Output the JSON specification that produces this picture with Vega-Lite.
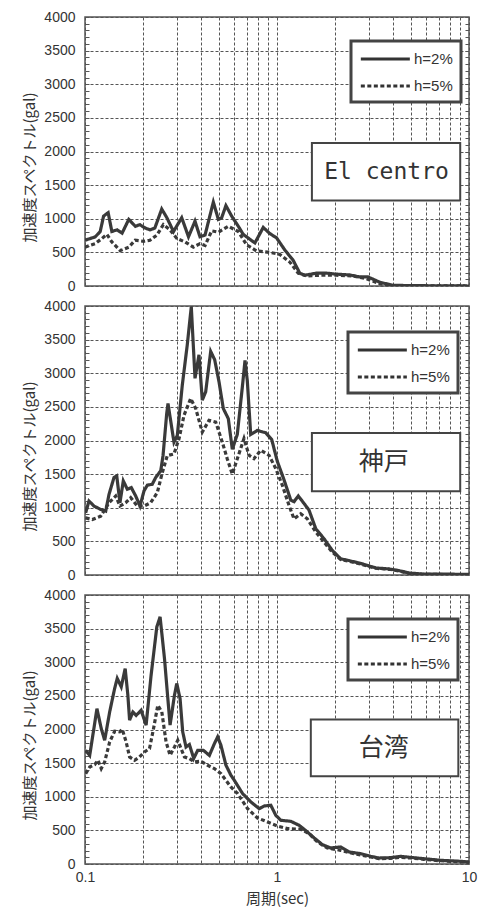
{
"$schema": "https://vega.github.io/schema/vega-lite/v6.json",
"background": "white",
"padding": {"top": 9, "left": 22, "right": 2, "bottom": 0},
"spacing": 20,
"bounds": "flush",
"datasets": {"spec": [
{"site":"El centro","h":"h=2%","T":0.100,"Sa":680},{"site":"El centro","h":"h=2%","T":0.113,"Sa":730},{"site":"El centro","h":"h=2%","T":0.120,"Sa":810},{"site":"El centro","h":"h=2%","T":0.125,"Sa":1040},{"site":"El centro","h":"h=2%","T":0.132,"Sa":1090},{"site":"El centro","h":"h=2%","T":0.138,"Sa":810},{"site":"El centro","h":"h=2%","T":0.147,"Sa":835},{"site":"El centro","h":"h=2%","T":0.156,"Sa":785},{"site":"El centro","h":"h=2%","T":0.169,"Sa":990},{"site":"El centro","h":"h=2%","T":0.183,"Sa":887},{"site":"El centro","h":"h=2%","T":0.193,"Sa":912},{"site":"El centro","h":"h=2%","T":0.206,"Sa":861},{"site":"El centro","h":"h=2%","T":0.218,"Sa":835},{"site":"El centro","h":"h=2%","T":0.231,"Sa":861},{"site":"El centro","h":"h=2%","T":0.251,"Sa":1144},{"site":"El centro","h":"h=2%","T":0.267,"Sa":1015},{"site":"El centro","h":"h=2%","T":0.289,"Sa":810},{"site":"El centro","h":"h=2%","T":0.319,"Sa":1015},{"site":"El centro","h":"h=2%","T":0.346,"Sa":732},{"site":"El centro","h":"h=2%","T":0.374,"Sa":964},{"site":"El centro","h":"h=2%","T":0.397,"Sa":732},{"site":"El centro","h":"h=2%","T":0.422,"Sa":758},{"site":"El centro","h":"h=2%","T":0.466,"Sa":1247},{"site":"El centro","h":"h=2%","T":0.495,"Sa":990},{"site":"El centro","h":"h=2%","T":0.515,"Sa":1015},{"site":"El centro","h":"h=2%","T":0.542,"Sa":1196},{"site":"El centro","h":"h=2%","T":0.580,"Sa":1041},{"site":"El centro","h":"h=2%","T":0.629,"Sa":887},{"site":"El centro","h":"h=2%","T":0.667,"Sa":768},{"site":"El centro","h":"h=2%","T":0.767,"Sa":640},{"site":"El centro","h":"h=2%","T":0.848,"Sa":871},{"site":"El centro","h":"h=2%","T":0.918,"Sa":779},{"site":"El centro","h":"h=2%","T":0.994,"Sa":717},{"site":"El centro","h":"h=2%","T":1.098,"Sa":536},{"site":"El centro","h":"h=2%","T":1.214,"Sa":382},{"site":"El centro","h":"h=2%","T":1.314,"Sa":191},{"site":"El centro","h":"h=2%","T":1.395,"Sa":160},{"site":"El centro","h":"h=2%","T":1.604,"Sa":191},{"site":"El centro","h":"h=2%","T":1.807,"Sa":191},{"site":"El centro","h":"h=2%","T":2.038,"Sa":176},{"site":"El centro","h":"h=2%","T":2.389,"Sa":165},{"site":"El centro","h":"h=2%","T":2.692,"Sa":135},{"site":"El centro","h":"h=2%","T":2.977,"Sa":135},{"site":"El centro","h":"h=2%","T":3.42,"Sa":57},{"site":"El centro","h":"h=2%","T":4.01,"Sa":10},{"site":"El centro","h":"h=2%","T":5.3,"Sa":5},{"site":"El centro","h":"h=2%","T":10,"Sa":0},
{"site":"El centro","h":"h=5%","T":0.100,"Sa":578},{"site":"El centro","h":"h=5%","T":0.113,"Sa":629},{"site":"El centro","h":"h=5%","T":0.1225,"Sa":706},{"site":"El centro","h":"h=5%","T":0.130,"Sa":768},{"site":"El centro","h":"h=5%","T":0.138,"Sa":655},{"site":"El centro","h":"h=5%","T":0.1525,"Sa":526},{"site":"El centro","h":"h=5%","T":0.169,"Sa":578},{"site":"El centro","h":"h=5%","T":0.1825,"Sa":680},{"site":"El centro","h":"h=5%","T":0.202,"Sa":665},{"site":"El centro","h":"h=5%","T":0.218,"Sa":680},{"site":"El centro","h":"h=5%","T":0.237,"Sa":758},{"site":"El centro","h":"h=5%","T":0.256,"Sa":912},{"site":"El centro","h":"h=5%","T":0.277,"Sa":835},{"site":"El centro","h":"h=5%","T":0.301,"Sa":706},{"site":"El centro","h":"h=5%","T":0.332,"Sa":655},{"site":"El centro","h":"h=5%","T":0.367,"Sa":578},{"site":"El centro","h":"h=5%","T":0.397,"Sa":629},{"site":"El centro","h":"h=5%","T":0.422,"Sa":603},{"site":"El centro","h":"h=5%","T":0.457,"Sa":820},{"site":"El centro","h":"h=5%","T":0.495,"Sa":800},{"site":"El centro","h":"h=5%","T":0.558,"Sa":887},{"site":"El centro","h":"h=5%","T":0.629,"Sa":810},{"site":"El centro","h":"h=5%","T":0.694,"Sa":614},{"site":"El centro","h":"h=5%","T":0.783,"Sa":521},{"site":"El centro","h":"h=5%","T":0.918,"Sa":500},{"site":"El centro","h":"h=5%","T":1.034,"Sa":470},{"site":"El centro","h":"h=5%","T":1.166,"Sa":356},{"site":"El centro","h":"h=5%","T":1.289,"Sa":191},{"site":"El centro","h":"h=5%","T":1.423,"Sa":150},{"site":"El centro","h":"h=5%","T":1.668,"Sa":160},{"site":"El centro","h":"h=5%","T":2.038,"Sa":160},{"site":"El centro","h":"h=5%","T":2.488,"Sa":150},{"site":"El centro","h":"h=5%","T":2.916,"Sa":110},{"site":"El centro","h":"h=5%","T":3.42,"Sa":36},{"site":"El centro","h":"h=5%","T":4.01,"Sa":5},{"site":"El centro","h":"h=5%","T":10,"Sa":0},
{"site":"神戸","h":"h=2%","T":0.1008,"Sa":925},{"site":"神戸","h":"h=2%","T":0.1049,"Sa":1100},{"site":"神戸","h":"h=2%","T":0.1114,"Sa":1025},{"site":"神戸","h":"h=2%","T":0.1207,"Sa":975},{"site":"神戸","h":"h=2%","T":0.1282,"Sa":950},{"site":"神戸","h":"h=2%","T":0.1334,"Sa":1200},{"site":"神戸","h":"h=2%","T":0.1416,"Sa":1450},{"site":"神戸","h":"h=2%","T":0.1463,"Sa":1475},{"site":"神戸","h":"h=2%","T":0.1521,"Sa":1075},{"site":"神戸","h":"h=2%","T":0.1583,"Sa":1400},{"site":"神戸","h":"h=2%","T":0.1661,"Sa":1275},{"site":"神戸","h":"h=2%","T":0.1742,"Sa":1300},{"site":"神戸","h":"h=2%","T":0.1837,"Sa":1175},{"site":"神戸","h":"h=2%","T":0.1934,"Sa":1025},{"site":"神戸","h":"h=2%","T":0.2029,"Sa":1250},{"site":"神戸","h":"h=2%","T":0.2111,"Sa":1335},{"site":"神戸","h":"h=2%","T":0.2241,"Sa":1350},{"site":"神戸","h":"h=2%","T":0.2335,"Sa":1450},{"site":"神戸","h":"h=2%","T":0.2480,"Sa":1550},{"site":"神戸","h":"h=2%","T":0.2549,"Sa":1775},{"site":"神戸","h":"h=2%","T":0.2664,"Sa":2400},{"site":"神戸","h":"h=2%","T":0.2706,"Sa":2550},{"site":"神戸","h":"h=2%","T":0.2907,"Sa":1975},{"site":"神戸","h":"h=2%","T":0.3025,"Sa":2075},{"site":"神戸","h":"h=2%","T":0.3212,"Sa":2825},{"site":"神戸","h":"h=2%","T":0.3410,"Sa":3425},{"site":"神戸","h":"h=2%","T":0.3578,"Sa":3990},{"site":"神戸","h":"h=2%","T":0.3741,"Sa":2925},{"site":"神戸","h":"h=2%","T":0.3845,"Sa":3125},{"site":"神戸","h":"h=2%","T":0.3924,"Sa":3275},{"site":"神戸","h":"h=2%","T":0.4082,"Sa":2600},{"site":"神戸","h":"h=2%","T":0.4252,"Sa":2725},{"site":"神戸","h":"h=2%","T":0.4515,"Sa":3325},{"site":"神戸","h":"h=2%","T":0.4737,"Sa":3200},{"site":"神戸","h":"h=2%","T":0.4987,"Sa":2875},{"site":"神戸","h":"h=2%","T":0.5252,"Sa":2475},{"site":"神戸","h":"h=2%","T":0.5577,"Sa":2325},{"site":"神戸","h":"h=2%","T":0.585,"Sa":1870},{"site":"神戸","h":"h=2%","T":0.6212,"Sa":2090},{"site":"神戸","h":"h=2%","T":0.6596,"Sa":2790},{"site":"神戸","h":"h=2%","T":0.6813,"Sa":3190},{"site":"神戸","h":"h=2%","T":0.7003,"Sa":2890},{"site":"神戸","h":"h=2%","T":0.7295,"Sa":2090},{"site":"神戸","h":"h=2%","T":0.7898,"Sa":2150},{"site":"神戸","h":"h=2%","T":0.8733,"Sa":2115},{"site":"神戸","h":"h=2%","T":0.9385,"Sa":2015},{"site":"神戸","h":"h=2%","T":1.0037,"Sa":1690},{"site":"神戸","h":"h=2%","T":1.088,"Sa":1415},{"site":"神戸","h":"h=2%","T":1.179,"Sa":1115},{"site":"神戸","h":"h=2%","T":1.226,"Sa":1090},{"site":"神戸","h":"h=2%","T":1.291,"Sa":1175},{"site":"神戸","h":"h=2%","T":1.382,"Sa":1065},{"site":"神戸","h":"h=2%","T":1.468,"Sa":965},{"site":"神戸","h":"h=2%","T":1.591,"Sa":690},{"site":"神戸","h":"h=2%","T":1.757,"Sa":540},{"site":"神戸","h":"h=2%","T":1.941,"Sa":365},{"site":"神戸","h":"h=2%","T":2.147,"Sa":240},{"site":"神戸","h":"h=2%","T":2.371,"Sa":215},{"site":"神戸","h":"h=2%","T":2.782,"Sa":165},{"site":"神戸","h":"h=2%","T":3.267,"Sa":105},{"site":"神戸","h":"h=2%","T":3.831,"Sa":90},{"site":"神戸","h":"h=2%","T":4.319,"Sa":65},{"site":"神戸","h":"h=2%","T":4.87,"Sa":30},{"site":"神戸","h":"h=2%","T":5.71,"Sa":15},{"site":"神戸","h":"h=2%","T":10,"Sa":10},
{"site":"神戸","h":"h=5%","T":0.1008,"Sa":850},{"site":"神戸","h":"h=5%","T":0.1091,"Sa":825},{"site":"神戸","h":"h=5%","T":0.1207,"Sa":875},{"site":"神戸","h":"h=5%","T":0.1334,"Sa":1075},{"site":"神戸","h":"h=5%","T":0.1445,"Sa":1175},{"site":"神戸","h":"h=5%","T":0.1521,"Sa":1025},{"site":"神戸","h":"h=5%","T":0.1629,"Sa":1075},{"site":"神戸","h":"h=5%","T":0.1730,"Sa":1150},{"site":"神戸","h":"h=5%","T":0.1873,"Sa":1025},{"site":"神戸","h":"h=5%","T":0.2029,"Sa":1025},{"site":"神戸","h":"h=5%","T":0.2198,"Sa":1075},{"site":"神戸","h":"h=5%","T":0.2380,"Sa":1225},{"site":"神戸","h":"h=5%","T":0.2528,"Sa":1525},{"site":"神戸","h":"h=5%","T":0.2683,"Sa":1775},{"site":"神戸","h":"h=5%","T":0.2907,"Sa":1800},{"site":"神戸","h":"h=5%","T":0.3087,"Sa":2025},{"site":"神戸","h":"h=5%","T":0.3279,"Sa":2375},{"site":"神戸","h":"h=5%","T":0.3551,"Sa":2625},{"site":"神戸","h":"h=5%","T":0.3772,"Sa":2475},{"site":"神戸","h":"h=5%","T":0.4082,"Sa":2125},{"site":"神戸","h":"h=5%","T":0.4424,"Sa":2300},{"site":"神戸","h":"h=5%","T":0.4794,"Sa":2275},{"site":"神戸","h":"h=5%","T":0.5190,"Sa":1975},{"site":"神戸","h":"h=5%","T":0.5510,"Sa":1725},{"site":"神戸","h":"h=5%","T":0.585,"Sa":1500},{"site":"神戸","h":"h=5%","T":0.620,"Sa":1720},{"site":"神戸","h":"h=5%","T":0.673,"Sa":2030},{"site":"神戸","h":"h=5%","T":0.7149,"Sa":1780},{"site":"神戸","h":"h=5%","T":0.7590,"Sa":1730},{"site":"神戸","h":"h=5%","T":0.8226,"Sa":1855},{"site":"神戸","h":"h=5%","T":0.9085,"Sa":1780},{"site":"神戸","h":"h=5%","T":0.9845,"Sa":1585},{"site":"神戸","h":"h=5%","T":1.066,"Sa":1335},{"site":"神戸","h":"h=5%","T":1.155,"Sa":1035},{"site":"神戸","h":"h=5%","T":1.226,"Sa":835},{"site":"神戸","h":"h=5%","T":1.329,"Sa":910},{"site":"神戸","h":"h=5%","T":1.439,"Sa":835},{"site":"神戸","h":"h=5%","T":1.591,"Sa":640},{"site":"神戸","h":"h=5%","T":1.757,"Sa":490},{"site":"神戸","h":"h=5%","T":1.941,"Sa":340},{"site":"神戸","h":"h=5%","T":2.147,"Sa":230},{"site":"神戸","h":"h=5%","T":2.371,"Sa":205},{"site":"神戸","h":"h=5%","T":2.782,"Sa":155},{"site":"神戸","h":"h=5%","T":3.267,"Sa":100},{"site":"神戸","h":"h=5%","T":3.831,"Sa":85},{"site":"神戸","h":"h=5%","T":4.319,"Sa":60},{"site":"神戸","h":"h=5%","T":4.87,"Sa":25},{"site":"神戸","h":"h=5%","T":5.71,"Sa":10},{"site":"神戸","h":"h=5%","T":10,"Sa":5},
{"site":"台湾","h":"h=2%","T":0.1008,"Sa":1690},{"site":"台湾","h":"h=2%","T":0.1058,"Sa":1615},{"site":"台湾","h":"h=2%","T":0.1123,"Sa":2090},{"site":"台湾","h":"h=2%","T":0.1154,"Sa":2310},{"site":"台湾","h":"h=2%","T":0.1215,"Sa":2015},{"site":"台湾","h":"h=2%","T":0.1266,"Sa":1840},{"site":"台湾","h":"h=2%","T":0.1344,"Sa":2260},{"site":"台湾","h":"h=2%","T":0.1427,"Sa":2610},{"site":"台湾","h":"h=2%","T":0.1472,"Sa":2760},{"site":"台湾","h":"h=2%","T":0.1544,"Sa":2635},{"site":"台湾","h":"h=2%","T":0.1619,"Sa":2905},{"site":"台湾","h":"h=2%","T":0.1672,"Sa":2510},{"site":"台湾","h":"h=2%","T":0.1707,"Sa":2140},{"site":"台湾","h":"h=2%","T":0.1776,"Sa":2260},{"site":"台湾","h":"h=2%","T":0.1847,"Sa":2210},{"site":"台湾","h":"h=2%","T":0.1960,"Sa":2285},{"site":"台湾","h":"h=2%","T":0.2081,"Sa":2065},{"site":"台湾","h":"h=2%","T":0.2210,"Sa":2810},{"site":"台湾","h":"h=2%","T":0.2366,"Sa":3525},{"site":"台湾","h":"h=2%","T":0.2461,"Sa":3675},{"site":"台湾","h":"h=2%","T":0.2594,"Sa":3055},{"site":"台湾","h":"h=2%","T":0.2774,"Sa":2065},{"site":"台湾","h":"h=2%","T":0.2924,"Sa":2510},{"site":"台湾","h":"h=2%","T":0.3006,"Sa":2685},{"site":"台湾","h":"h=2%","T":0.3127,"Sa":2460},{"site":"台湾","h":"h=2%","T":0.3228,"Sa":1965},{"site":"台湾","h":"h=2%","T":0.3358,"Sa":1740},{"site":"台湾","h":"h=2%","T":0.3498,"Sa":1775},{"site":"台湾","h":"h=2%","T":0.3684,"Sa":1570},{"site":"台湾","h":"h=2%","T":0.3864,"Sa":1690},{"site":"台湾","h":"h=2%","T":0.4137,"Sa":1690},{"site":"台湾","h":"h=2%","T":0.4444,"Sa":1615},{"site":"台湾","h":"h=2%","T":0.4719,"Sa":1790},{"site":"台湾","h":"h=2%","T":0.4909,"Sa":1890},{"site":"台湾","h":"h=2%","T":0.5106,"Sa":1765},{"site":"台湾","h":"h=2%","T":0.5420,"Sa":1470},{"site":"台湾","h":"h=2%","T":0.5754,"Sa":1320},{"site":"台湾","h":"h=2%","T":0.5993,"Sa":1245},{"site":"台湾","h":"h=2%","T":0.6619,"Sa":1047},{"site":"台湾","h":"h=2%","T":0.7310,"Sa":923},{"site":"台湾","h":"h=2%","T":0.8081,"Sa":823},{"site":"台湾","h":"h=2%","T":0.8579,"Sa":863},{"site":"台湾","h":"h=2%","T":0.9285,"Sa":873},{"site":"台湾","h":"h=2%","T":0.9858,"Sa":724},{"site":"台湾","h":"h=2%","T":1.047,"Sa":650},{"site":"台湾","h":"h=2%","T":1.180,"Sa":635},{"site":"台湾","h":"h=2%","T":1.305,"Sa":575},{"site":"台湾","h":"h=2%","T":1.440,"Sa":476},{"site":"台湾","h":"h=2%","T":1.561,"Sa":387},{"site":"台湾","h":"h=2%","T":1.723,"Sa":288},{"site":"台湾","h":"h=2%","T":1.904,"Sa":238},{"site":"台湾","h":"h=2%","T":2.145,"Sa":253},{"site":"台湾","h":"h=2%","T":2.372,"Sa":179},{"site":"台湾","h":"h=2%","T":2.725,"Sa":154},{"site":"台湾","h":"h=2%","T":3.072,"Sa":114},{"site":"台湾","h":"h=2%","T":3.395,"Sa":89},{"site":"台湾","h":"h=2%","T":3.902,"Sa":94},{"site":"台湾","h":"h=2%","T":4.397,"Sa":114},{"site":"台湾","h":"h=2%","T":4.956,"Sa":99},{"site":"台湾","h":"h=2%","T":5.818,"Sa":79},{"site":"台湾","h":"h=2%","T":7.093,"Sa":55},{"site":"台湾","h":"h=2%","T":9.012,"Sa":40},{"site":"台湾","h":"h=2%","T":10,"Sa":30},
{"site":"台湾","h":"h=5%","T":0.1008,"Sa":1344},{"site":"台湾","h":"h=5%","T":0.1058,"Sa":1443},{"site":"台湾","h":"h=5%","T":0.1123,"Sa":1478},{"site":"台湾","h":"h=5%","T":0.1168,"Sa":1543},{"site":"台湾","h":"h=5%","T":0.1215,"Sa":1419},{"site":"台湾","h":"h=5%","T":0.1266,"Sa":1518},{"site":"台湾","h":"h=5%","T":0.1344,"Sa":1815},{"site":"台湾","h":"h=5%","T":0.1427,"Sa":1974},{"site":"台湾","h":"h=5%","T":0.1515,"Sa":1964},{"site":"台湾","h":"h=5%","T":0.1563,"Sa":2004},{"site":"台湾","h":"h=5%","T":0.1638,"Sa":1815},{"site":"台湾","h":"h=5%","T":0.1707,"Sa":1592},{"site":"台湾","h":"h=5%","T":0.1812,"Sa":1543},{"site":"台湾","h":"h=5%","T":0.1923,"Sa":1592},{"site":"台湾","h":"h=5%","T":0.2042,"Sa":1667},{"site":"台湾","h":"h=5%","T":0.2168,"Sa":1716},{"site":"台湾","h":"h=5%","T":0.2275,"Sa":2014},{"site":"台湾","h":"h=5%","T":0.2394,"Sa":2361},{"site":"台湾","h":"h=5%","T":0.2512,"Sa":2262},{"site":"台湾","h":"h=5%","T":0.2644,"Sa":1815},{"site":"台湾","h":"h=5%","T":0.2774,"Sa":1617},{"site":"台湾","h":"h=5%","T":0.2924,"Sa":1741},{"site":"台湾","h":"h=5%","T":0.3042,"Sa":1840},{"site":"台湾","h":"h=5%","T":0.3164,"Sa":1716},{"site":"台湾","h":"h=5%","T":0.3295,"Sa":1592},{"site":"台湾","h":"h=5%","T":0.3498,"Sa":1567},{"site":"台湾","h":"h=5%","T":0.3715,"Sa":1518},{"site":"台湾","h":"h=5%","T":0.4020,"Sa":1528},{"site":"台湾","h":"h=5%","T":0.4355,"Sa":1468},{"site":"台湾","h":"h=5%","T":0.4719,"Sa":1419},{"site":"台湾","h":"h=5%","T":0.5106,"Sa":1344},{"site":"台湾","h":"h=5%","T":0.5420,"Sa":1245},{"site":"台湾","h":"h=5%","T":0.5754,"Sa":1146},{"site":"台湾","h":"h=5%","T":0.6234,"Sa":1047},{"site":"台湾","h":"h=5%","T":0.7027,"Sa":823},{"site":"台湾","h":"h=5%","T":0.7918,"Sa":684},{"site":"台湾","h":"h=5%","T":0.8926,"Sa":625},{"site":"台湾","h":"h=5%","T":1.006,"Sa":565},{"site":"台湾","h":"h=5%","T":1.134,"Sa":526},{"site":"台湾","h":"h=5%","T":1.329,"Sa":516},{"site":"台湾","h":"h=5%","T":1.470,"Sa":451},{"site":"台湾","h":"h=5%","T":1.624,"Sa":327},{"site":"台湾","h":"h=5%","T":1.830,"Sa":238},{"site":"台湾","h":"h=5%","T":2.145,"Sa":203},{"site":"台湾","h":"h=5%","T":2.518,"Sa":154},{"site":"台湾","h":"h=5%","T":3.072,"Sa":105},{"site":"台湾","h":"h=5%","T":3.395,"Sa":80},{"site":"台湾","h":"h=5%","T":3.902,"Sa":85},{"site":"台湾","h":"h=5%","T":4.397,"Sa":100},{"site":"台湾","h":"h=5%","T":4.956,"Sa":90},{"site":"台湾","h":"h=5%","T":5.818,"Sa":70},{"site":"台湾","h":"h=5%","T":7.093,"Sa":48},{"site":"台湾","h":"h=5%","T":9.012,"Sa":33},{"site":"台湾","h":"h=5%","T":10,"Sa":25}
]},
"resolve": {"scale": {"strokeDash": "independent"}, "legend": {"strokeDash": "independent"}},
"vconcat": [
{"width": 384, "height": 269, "resolve": {"axis": {"y": "independent"}},
 "layer": [
  {"data": {"name": "spec"}, "transform": [{"filter": "datum.site === 'El centro'"}],
   "mark": {"type": "line", "color": "#3a3a3a", "strokeWidth": 3.2, "clip": true},
   "encoding": {
    "x": {"field": "T", "type": "quantitative", "scale": {"type": "log", "domain": [0.1, 10], "nice": false},
          "axis": {"values": [0.1,0.2,0.3,0.4,0.5,0.6,0.7,0.8,0.9,1,2,3,4,5,6,7,8,9,10], "labels": false, "ticks": false, "title": null, "grid": true}},
    "y": {"field": "Sa", "type": "quantitative", "scale": {"domain": [0, 4000], "nice": false},
          "axis": {"orient": "left", "values": [0,500,1000,1500,2000,2500,3000,3500,4000], "format": "d", "title": "加速度スペクトル(gal)", "grid": true, "ticks": false, "labelPadding": 10, "titlePadding": 6, "titleY": 150}},
    "strokeDash": {"field": "h", "type": "nominal", "scale": {"domain": ["h=2%", "h=5%"], "range": [[1, 0], [4, 2.5]]},
          "legend": {"title": null, "orient": "none", "legendX": 266, "legendY": 24}}
   }},
  {"data": {"values": [{}]},
   "mark": {"type": "rect", "fill": "white", "stroke": "#444", "strokeWidth": 2},
   "encoding": {"x": {"datum": 1.52, "type": "quantitative", "axis": {"values": [0.1,0.2,0.3,0.4,0.5,0.6,0.7,0.8,0.9,1,2,3,4,5,6,7,8,9,10], "labels": false, "ticks": false, "title": null, "grid": true}}, "x2": {"datum": 9.0},
    "y": {"datum": 2125, "type": "quantitative", "axis": {"orient": "left", "values": [0,100,200,300,400,500,600,700,800,900,1000,1100,1200,1300,1400,1500,1600,1700,1800,1900,2000,2100,2200,2300,2400,2500,2600,2700,2800,2900,3000,3100,3200,3300,3400,3500,3600,3700,3800,3900,4000], "labels": false, "grid": false, "ticks": true, "tickSize": -4, "title": null}},
    "y2": {"datum": 1270}}},
  {"data": {"values": [{}]},
   "mark": {"type": "text", "font": "DejaVu Sans Mono", "fontSize": 23, "color": "#333"},
   "encoding": {"x": {"datum": 3.72, "type": "quantitative", "axis": {"values": [0.1,0.2,0.3,0.4,0.5,0.6,0.7,0.8,0.9,1,2,3,4,5,6,7,8,9,10], "labels": false, "ticks": false, "title": null, "grid": true}},
    "y": {"datum": 1700, "type": "quantitative", "axis": {"orient": "right", "values": [0,100,200,300,400,500,600,700,800,900,1000,1100,1200,1300,1400,1500,1600,1700,1800,1900,2000,2100,2200,2300,2400,2500,2600,2700,2800,2900,3000,3100,3200,3300,3400,3500,3600,3700,3800,3900,4000], "labels": false, "grid": false, "ticks": true, "tickSize": -4, "title": null}},
    "text": {"value": "El centro"}}}
 ]},
{"width": 384, "height": 269, "resolve": {"axis": {"y": "independent"}},
 "layer": [
  {"data": {"name": "spec"}, "transform": [{"filter": "datum.site === '神戸'"}],
   "mark": {"type": "line", "color": "#3a3a3a", "strokeWidth": 3.2, "clip": true},
   "encoding": {
    "x": {"field": "T", "type": "quantitative", "scale": {"type": "log", "domain": [0.1, 10], "nice": false},
          "axis": {"values": [0.1,0.2,0.3,0.4,0.5,0.6,0.7,0.8,0.9,1,2,3,4,5,6,7,8,9,10], "labels": false, "ticks": false, "title": null, "grid": true}},
    "y": {"field": "Sa", "type": "quantitative", "scale": {"domain": [0, 4000], "nice": false},
          "axis": {"orient": "left", "values": [0,500,1000,1500,2000,2500,3000,3500,4000], "format": "d", "title": "加速度スペクトル(gal)", "grid": true, "ticks": false, "labelPadding": 10, "titlePadding": 6, "titleY": 150}},
    "strokeDash": {"field": "h", "type": "nominal", "scale": {"domain": ["h=2%", "h=5%"], "range": [[1, 0], [4, 2.5]]},
          "legend": {"title": null, "orient": "none", "legendX": 263, "legendY": 26}}
   }},
  {"data": {"values": [{}]},
   "mark": {"type": "rect", "fill": "white", "stroke": "#444", "strokeWidth": 2},
   "encoding": {"x": {"datum": 1.52, "type": "quantitative", "axis": {"values": [0.1,0.2,0.3,0.4,0.5,0.6,0.7,0.8,0.9,1,2,3,4,5,6,7,8,9,10], "labels": false, "ticks": false, "title": null, "grid": true}}, "x2": {"datum": 9.0},
    "y": {"datum": 2110, "type": "quantitative", "axis": {"orient": "left", "values": [0,100,200,300,400,500,600,700,800,900,1000,1100,1200,1300,1400,1500,1600,1700,1800,1900,2000,2100,2200,2300,2400,2500,2600,2700,2800,2900,3000,3100,3200,3300,3400,3500,3600,3700,3800,3900,4000], "labels": false, "grid": false, "ticks": true, "tickSize": -4, "title": null}},
    "y2": {"datum": 1245}}},
  {"data": {"values": [{}]},
   "mark": {"type": "text", "font": "Noto Sans CJK JP", "fontSize": 25, "color": "#333"},
   "encoding": {"x": {"datum": 3.6, "type": "quantitative", "axis": {"values": [0.1,0.2,0.3,0.4,0.5,0.6,0.7,0.8,0.9,1,2,3,4,5,6,7,8,9,10], "labels": false, "ticks": false, "title": null, "grid": true}},
    "y": {"datum": 1680, "type": "quantitative", "axis": {"orient": "right", "values": [0,100,200,300,400,500,600,700,800,900,1000,1100,1200,1300,1400,1500,1600,1700,1800,1900,2000,2100,2200,2300,2400,2500,2600,2700,2800,2900,3000,3100,3200,3300,3400,3500,3600,3700,3800,3900,4000], "labels": false, "grid": false, "ticks": true, "tickSize": -4, "title": null}},
    "text": {"value": "神戸"}}}
 ]},
{"width": 384, "height": 269, "resolve": {"axis": {"y": "independent"}},
 "layer": [
  {"data": {"name": "spec"}, "transform": [{"filter": "datum.site === '台湾'"}],
   "mark": {"type": "line", "color": "#3a3a3a", "strokeWidth": 3.2, "clip": true},
   "encoding": {
    "x": {"field": "T", "type": "quantitative", "scale": {"type": "log", "domain": [0.1, 10], "nice": false},
          "axis": {"values": [0.1,0.2,0.3,0.4,0.5,0.6,0.7,0.8,0.9,1,2,3,4,5,6,7,8,9,10], "format": "~g", "labelExpr": "datum.value == 0.1 || datum.value == 1 || datum.value == 10 ? datum.label : ''", "labelFlush": false, "ticks": false, "labelPadding": 6, "title": "周期(sec)", "titleFontSize": 15, "titlePadding": 7, "grid": true}},
    "y": {"field": "Sa", "type": "quantitative", "scale": {"domain": [0, 4000], "nice": false},
          "axis": {"orient": "left", "values": [0,500,1000,1500,2000,2500,3000,3500,4000], "format": "d", "title": "加速度スペクトル(gal)", "grid": true, "ticks": false, "labelPadding": 10, "titlePadding": 6, "titleY": 150}},
    "strokeDash": {"field": "h", "type": "nominal", "scale": {"domain": ["h=2%", "h=5%"], "range": [[1, 0], [4, 2.5]]},
          "legend": {"title": null, "orient": "none", "legendX": 263, "legendY": 24}}
   }},
  {"data": {"values": [{}]},
   "mark": {"type": "rect", "fill": "white", "stroke": "#444", "strokeWidth": 2},
   "encoding": {"x": {"datum": 1.5, "type": "quantitative", "axis": {"values": [0.1,0.2,0.3,0.4,0.5,0.6,0.7,0.8,0.9,1,2,3,4,5,6,7,8,9,10], "format": "~g", "labelExpr": "datum.value == 0.1 || datum.value == 1 || datum.value == 10 ? datum.label : ''", "labelFlush": false, "ticks": false, "labelPadding": 6, "title": "周期(sec)", "titleFontSize": 15, "titlePadding": 7, "grid": true}}, "x2": {"datum": 8.8},
    "y": {"datum": 2148, "type": "quantitative", "axis": {"orient": "left", "values": [0,100,200,300,400,500,600,700,800,900,1000,1100,1200,1300,1400,1500,1600,1700,1800,1900,2000,2100,2200,2300,2400,2500,2600,2700,2800,2900,3000,3100,3200,3300,3400,3500,3600,3700,3800,3900,4000], "labels": false, "grid": false, "ticks": true, "tickSize": -4, "title": null}},
    "y2": {"datum": 1304}}},
  {"data": {"values": [{}]},
   "mark": {"type": "text", "font": "Noto Sans CJK JP", "fontSize": 25, "color": "#333"},
   "encoding": {"x": {"datum": 3.6, "type": "quantitative", "axis": {"values": [0.1,0.2,0.3,0.4,0.5,0.6,0.7,0.8,0.9,1,2,3,4,5,6,7,8,9,10], "format": "~g", "labelExpr": "datum.value == 0.1 || datum.value == 1 || datum.value == 10 ? datum.label : ''", "labelFlush": false, "ticks": false, "labelPadding": 6, "title": "周期(sec)", "titleFontSize": 15, "titlePadding": 7, "grid": true}},
    "y": {"datum": 1726, "type": "quantitative", "axis": {"orient": "right", "values": [0,100,200,300,400,500,600,700,800,900,1000,1100,1200,1300,1400,1500,1600,1700,1800,1900,2000,2100,2200,2300,2400,2500,2600,2700,2800,2900,3000,3100,3200,3300,3400,3500,3600,3700,3800,3900,4000], "labels": false, "grid": false, "ticks": true, "tickSize": -4, "title": null}},
    "text": {"value": "台湾"}}}
 ]}
],
"config": {
 "view": {"stroke": "#555", "strokeWidth": 1.5},
 "axis": {"labelFont": "Liberation Sans", "labelFontSize": 14, "labelColor": "#333", "titleFont": "Noto Sans CJK JP", "titleFontSize": 15, "titleFontWeight": "normal", "titleColor": "#333", "gridColor": "#555", "gridDash": [3, 2], "gridWidth": 1, "gridOpacity": 1, "domain": false, "tickColor": "#555", "tickWidth": 1},
 "legend": {"symbolType": "M-1,0H5", "symbolSize": 267, "symbolStrokeWidth": 3, "symbolStrokeColor": "#333", "labelFont": "Liberation Sans", "labelFontSize": 15, "labelColor": "#333", "labelOffset": 35, "rowPadding": 9, "padding": 8, "fillColor": "white", "strokeColor": "#444", "strokeWidth": 3}
}
}
